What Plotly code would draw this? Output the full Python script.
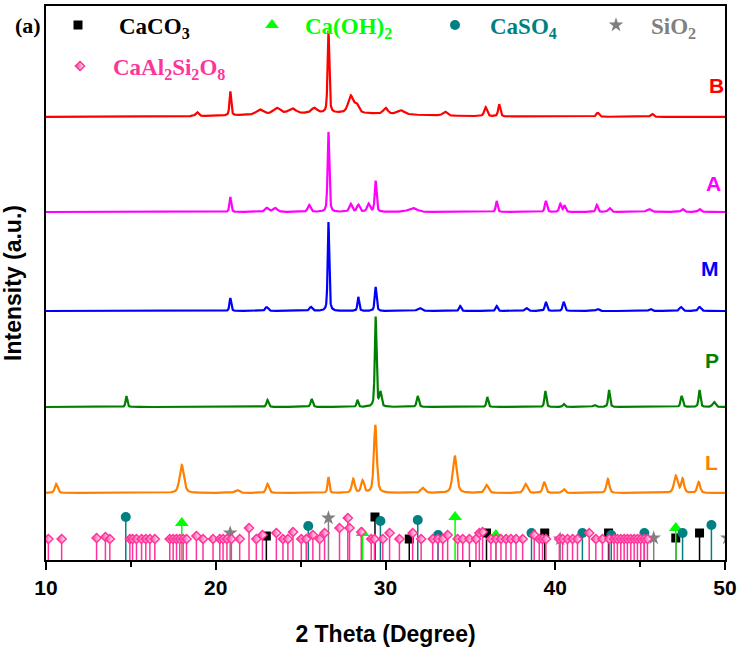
import numpy as np
import plotly.graph_objects as go

# ---------------- sample patterns: peaks (2theta, height, FWHM) -------------
B_2theta = [20.86, 22.6, 23.6, 24.5, 25.8, 26.64, 27.95, 28.3, 30.0, 30.9, 33.5, 35.9, 36.7, 42.5, 45.7, 18.9, 27.0]
B_height = [24, 5, 6, 5, 5, 82, 17, 8, 6, 4, 4, 9, 12, 4, 3, 4, 4]
B_fwhm = [0.12, 0.5, 0.5, 0.5, 0.4, 0.12, 0.35, 0.3, 0.3, 0.5, 0.3, 0.2, 0.15, 0.2, 0.2, 0.2, 10.0]

A_2theta = [20.86, 23.0, 23.5, 25.5, 26.64, 27.95, 28.4, 29.0, 29.42, 31.6, 36.55, 39.45, 40.3, 40.55,
            42.45, 43.2, 45.5, 47.5, 48.5]
A_height = [15, 4, 4, 7, 80, 8, 7, 8, 31, 4, 11, 11, 8, 6, 7, 4, 3, 3, 3]
A_fwhm = [0.12, 0.25, 0.3, 0.2, 0.12, 0.2, 0.2, 0.2, 0.13, 0.6, 0.13, 0.15, 0.15, 0.15, 0.15, 0.2, 0.3, 0.2, 0.2]

M_2theta = [20.86, 23.0, 25.6, 26.64, 28.4, 29.42, 32.0, 34.4, 36.55, 38.3, 39.45, 40.5, 42.5, 45.6, 47.4, 48.5]
M_height = [13, 4, 4, 89, 14, 24, 3, 5, 5, 3, 9, 9, 2, 2, 4, 4]
M_fwhm = [0.12, 0.2, 0.2, 0.11, 0.12, 0.13, 0.3, 0.15, 0.15, 0.2, 0.15, 0.15, 0.2, 0.2, 0.2, 0.2]

P_2theta = [14.74, 23.05, 25.65, 28.35, 29.42, 29.7, 31.9, 36.0, 39.42, 40.5, 42.3, 43.17, 47.45, 48.5, 49.35]
P_height = [11, 7, 8, 7, 90, 14, 11, 10, 16, 3, 2, 17, 11, 17, 5]
P_fwhm = [0.12, 0.15, 0.15, 0.12, 0.12, 0.15, 0.15, 0.13, 0.13, 0.15, 0.2, 0.13, 0.15, 0.13, 0.2]

L_2theta = [10.6, 18.0, 21.25, 23.05, 26.64, 28.1, 28.65, 29.4, 32.2, 34.08, 35.95, 38.25, 39.35, 40.5,
            43.1, 47.1, 47.5, 48.45]
L_height = [9, 28, 3, 9, 16, 14, 12, 68, 5, 37, 8, 9, 11, 4, 14, 17, 14, 11]
L_fwhm = [0.2, 0.3, 0.3, 0.2, 0.12, 0.2, 0.2, 0.2, 0.3, 0.28, 0.25, 0.25, 0.2, 0.2, 0.2, 0.25, 0.2, 0.2]

SAMPLES = ["L", "P", "M", "A", "B"]
PEAKS = {
    "B": (B_2theta, B_height, B_fwhm),
    "A": (A_2theta, A_height, A_fwhm),
    "M": (M_2theta, M_height, M_fwhm),
    "P": (P_2theta, P_height, P_fwhm),
    "L": (L_2theta, L_height, L_fwhm),
}

# ---------------- reference (PDF) stick patterns: 2theta and relative height ----------------
CaCO3_2theta = [22.98, 29.38, 31.4, 35.95, 39.38, 43.14, 47.1, 48.5]
CaCO3_height = [24, 43, 21, 27, 27, 27, 22, 27]

CaOH2_2theta = [18.0, 28.65, 34.1, 36.5, 47.1]
CaOH2_height = [37, 27, 43, 25, 32]

CaSO4_2theta = [14.7, 25.45, 29.7, 31.9, 33.1, 38.6, 41.6, 43.3, 45.25, 47.5, 49.2]
CaSO4_height = [43, 34, 39, 40, 25, 27, 27, 25, 27, 27, 35]

SiO2_2theta = [20.85, 26.64, 40.29, 45.8, 50.14]
SiO2_height = [27, 42, 21, 22, 22]

CaAl2Si2O8_2theta = [10.14, 10.92, 12.98, 13.5, 13.76, 14.94, 15.1, 15.33, 15.63, 15.88, 16.12, 16.41,
                     17.29, 17.49, 17.69, 17.88, 18.08, 18.28, 18.86, 19.25, 19.84, 20.24, 20.43, 20.66,
                     20.92, 21.41, 21.96, 22.39, 22.75, 23.57, 23.96, 24.25, 24.55, 25.04, 25.33, 25.72,
                     26.12, 26.41, 27.29, 27.78, 27.88, 28.57, 29.16, 29.35, 29.84, 30.24, 30.82, 31.6,
                     32.1, 32.78, 33.08, 33.37, 33.66, 34.25, 34.55, 34.94, 35.33, 35.53, 35.72, 36.21,
                     36.51, 36.8, 37.1, 37.39, 37.69, 38.08, 38.76, 39.06, 39.25, 39.45, 40.24, 40.43,
                     40.72, 41.02, 41.31, 42.0, 42.39, 42.78, 43.18, 43.47, 43.66, 43.86, 44.06, 44.25,
                     44.45, 44.65, 44.84, 45.04, 45.24, 45.43]
CaAl2Si2O8_height = [21, 21, 22, 23, 21, 21, 21, 21, 21, 21, 21, 21,
                     21, 21, 21, 21, 21, 21, 24, 21, 21, 21, 21, 21,
                     21, 21, 32, 21, 25, 27, 21, 21, 28, 21, 21, 25,
                     21, 27, 32, 42, 32, 28, 21, 21, 21, 27, 21, 27,
                     21, 21, 21, 21, 25, 21, 21, 21, 21, 27, 28, 21,
                     21, 21, 21, 21, 21, 21, 25, 21, 21, 21, 21, 21,
                     21, 21, 21, 27, 21, 21, 21, 21, 21, 21, 21, 21,
                     21, 21, 21, 21, 21, 21]

x_ticks = [10, 20, 30, 40, 50]

# ---------------- styling / layout (not data) ----------------
W, H = 741, 649
PL, PR, PT, PB = 46, 725, 6, 560          # plot area in pixels
X0, X1 = 10, 50
Y_RANGE = [0, PB - PT]

OFFSET = {"L": 67, "P": 153, "M": 249, "A": 348, "B": 443}
COLOR = {"B": "#FF0000", "A": "#FF00FF", "M": "#0000FF", "P": "#008000", "L": "#FF8000"}
LABEL_PX = {"B": (716, 85), "A": (713, 183), "M": (710, 268), "P": (712, 360), "L": (711, 462)}

PH_COLOR = {"CaCO3": "#000000", "CaOH2": "#00FF00", "CaSO4": "#008080", "SiO2": "#808080",
            "CaAl2Si2O8": "#FF3399"}
PH_SYMBOL = {"CaCO3": "square", "CaOH2": "triangle-up", "CaSO4": "circle", "SiO2": "star",
             "CaAl2Si2O8": "diamond"}
PH_SIZE = {"CaCO3": 9, "CaOH2": 12, "CaSO4": 10, "SiO2": 11, "CaAl2Si2O8": 7}
PH_NAME = {"CaCO3": "CaCO<sub>3</sub>", "CaOH2": "Ca(OH)<sub>2</sub>", "CaSO4": "CaSO<sub>4</sub>",
           "SiO2": "SiO<sub>2</sub>", "CaAl2Si2O8": "CaAl<sub>2</sub>Si<sub>2</sub>O<sub>8</sub>"}
# legend layout: (marker px x, text px x, row px y)
LEGEND_PX = {"CaCO3": (78, 117, 25), "CaOH2": (272, 303, 25), "CaSO4": (455, 488, 25),
             "SiO2": (616, 649, 25), "CaAl2Si2O8": (80, 111, 66)}


def px2x(px):
    return X0 + (px - PL) * (X1 - X0) / (PR - PL)


def px2y(py):
    return PB - py


def profile(theta, pos, hgt, fw, eta=0.5):
    y = np.zeros_like(theta)
    for p, h, w in zip(pos, hgt, fw):
        d2 = 4 * (theta - p) ** 2 / w ** 2
        y += h * (eta / (1 + d2) + (1 - eta) * np.exp(-np.log(2) * d2))
    return y


theta = np.round(np.arange(X0, X1 + 1e-9, 0.01), 2)

fig = go.Figure()

for s in SAMPLES:
    pos, hgt, fw = PEAKS[s]
    fig.add_trace(go.Scatter(x=theta, y=OFFSET[s] + profile(theta, pos, hgt, fw), mode="lines",
                             line=dict(color=COLOR[s], width=2.2), showlegend=False, hoverinfo="skip"))

phases = [("CaCO3", CaCO3_2theta, CaCO3_height), ("CaOH2", CaOH2_2theta, CaOH2_height),
          ("CaSO4", CaSO4_2theta, CaSO4_height), ("SiO2", SiO2_2theta, SiO2_height),
          ("CaAl2Si2O8", CaAl2Si2O8_2theta, CaAl2Si2O8_height)]

for key, xs, hs in phases:
    c = PH_COLOR[key]
    mk = dict(symbol=PH_SYMBOL[key], size=PH_SIZE[key], color=c, line=dict(width=0, color=c))
    if key == "CaAl2Si2O8":
        mk = dict(symbol="diamond", size=PH_SIZE[key], color=c, line=dict(width=1.5, color=c),
                  gradient=dict(type="horizontal", color="white"))
    fig.add_trace(go.Scatter(
        x=xs, y=hs, mode="markers", marker=mk, showlegend=False, hoverinfo="skip",
        error_y=dict(type="data", symmetric=False, array=[0] * len(hs), arrayminus=hs,
                     width=0, thickness=1.5, color=c)))
    mx, tx, ry = LEGEND_PX[key]
    fig.add_trace(go.Scatter(x=[px2x(mx)], y=[px2y(ry)], mode="markers", marker=mk,
                             showlegend=False, hoverinfo="skip"))
    fig.add_annotation(x=px2x(tx), y=px2y(ry + 3), xref="x", yref="y", text=PH_NAME[key],
                       showarrow=False, xanchor="left", yanchor="middle",
                       font=dict(family="Liberation Serif", size=23, color=c, weight="bold"))

for s in SAMPLES:
    lx, ly = LABEL_PX[s]
    fig.add_annotation(x=px2x(lx), y=px2y(ly), xref="x", yref="y", text=s, showarrow=False,
                       xanchor="center", yanchor="middle",
                       font=dict(family="Liberation Sans", size=21, color=COLOR[s], weight="bold"))

fig.add_annotation(x=(28 - PL) / (PR - PL), y=(PB - 25) / (PB - PT), xref="paper", yref="paper",
                   text="(a)", showarrow=False, xanchor="center", yanchor="middle",
                   font=dict(family="Liberation Serif", size=22, color="black", weight="bold"))

fig.update_layout(
    width=W, height=H,
    margin=dict(l=PL, r=W - PR, t=PT, b=H - PB, autoexpand=False),
    paper_bgcolor="white", plot_bgcolor="white",
    showlegend=False, hovermode=False,
    xaxis=dict(range=[X0, X1], tickvals=x_ticks, ticks="outside", ticklen=8, tickwidth=2,
               tickcolor="black", showline=True, linewidth=2, linecolor="black", mirror=True,
               showgrid=False, zeroline=False, ticklabelstandoff=0,
               minor=dict(dtick=5, ticks="outside", ticklen=5, tickwidth=2, tickcolor="black"),
               tickfont=dict(family="Liberation Sans", size=21, color="black", weight="bold"),
               title=dict(text="2 Theta (Degree)", standoff=28,
                          font=dict(family="Liberation Sans", size=23, color="black", weight="bold"))),
    yaxis=dict(range=Y_RANGE, showticklabels=False, ticks="", showline=True, linewidth=2,
               linecolor="black", mirror=True, showgrid=False, zeroline=False,
               title=dict(text="Intensity (a.u.)", standoff=20,
                          font=dict(family="Liberation Sans", size=23, color="black", weight="bold"))),
)

fig.write_html("out.html", config={"displayModeBar": False},
               post_script="document.body.style.margin='0px';document.body.style.padding='0px';")
